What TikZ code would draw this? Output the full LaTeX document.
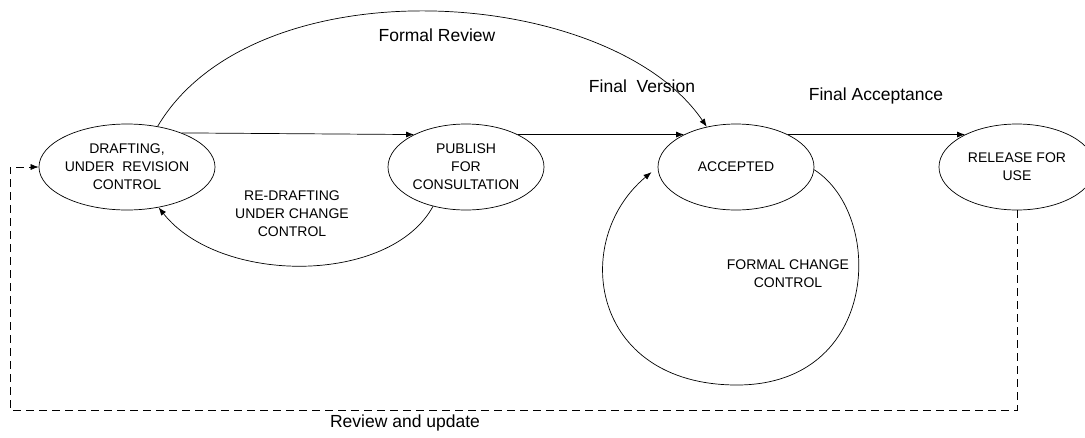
\documentclass[tikz,border=0pt]{standalone}
\usepackage{fontspec}
\setmainfont{Liberation Sans}
\usetikzlibrary{shapes.geometric,arrows.meta}

\tikzset{
  state/.style={draw, ellipse, inner sep=0pt, minimum width=156pt, minimum height=86pt, align=center},
  lbl/.style={align=center},
  biglbl/.style={font=\fontsize{17.5}{21}\selectfont},
  flow/.style={-{Latex[length=8pt,width=6pt]}, line width=0.7pt},
  back/.style={flow, dash pattern=on 8pt off 5pt}
}

\begin{document}
\begin{tikzpicture}[x=1pt, y=-1pt, line width=0.7pt, font=\fontsize{14}{18}\selectfont]
%\draw [lightgray](0,0) grid[step=50] (1085,437);
\useasboundingbox (0,0) rectangle (1085,437);

\node[state] (draft) at (127,167) {DRAFTING,\\UNDER\ \ REVISION\\CONTROL};
\node[state] (pub) at (466,167) {PUBLISH\\FOR\\CONSULTATION};
\node[state] (acc) at (736,167) {ACCEPTED};
\node[state] (rel) at (1017,167) {RELEASE FOR\\USE};

\draw[flow] (draft.32) -- (pub.148);
\draw[flow] (pub.32) -- (acc.148);
\draw[flow] (acc.32) -- (rel.148);

\draw[flow] (draft.53) .. controls (255,-38) and (610,-15) .. (acc.126);
\draw[flow] (pub.230) .. controls (390,285) and (220,285) .. (draft.-52);
\draw[flow, shorten >=8pt] (acc.-2) .. controls (885,215) and (880,385) .. (737,385)
  .. controls (590,385) and (570,240) .. (acc.west);

\draw[back] (rel.south) |- (10,410) |- (draft.west);

\node[lbl, biglbl] (review) at (437,35) {Formal Review};
\node[lbl, biglbl] (final) at (642,86) {Final\ \ Version};
\node[lbl, biglbl] (accept) at (876,96) {Final Acceptance};
\node[lbl] (redraft) at (292,214) {RE-DRAFTING\\UNDER CHANGE\\CONTROL};
\node[lbl] (change) at (788,274) {FORMAL CHANGE\\CONTROL};
\node[lbl, biglbl] (update) at (405,423) {Review and update};

\end{tikzpicture}
\end{document}
